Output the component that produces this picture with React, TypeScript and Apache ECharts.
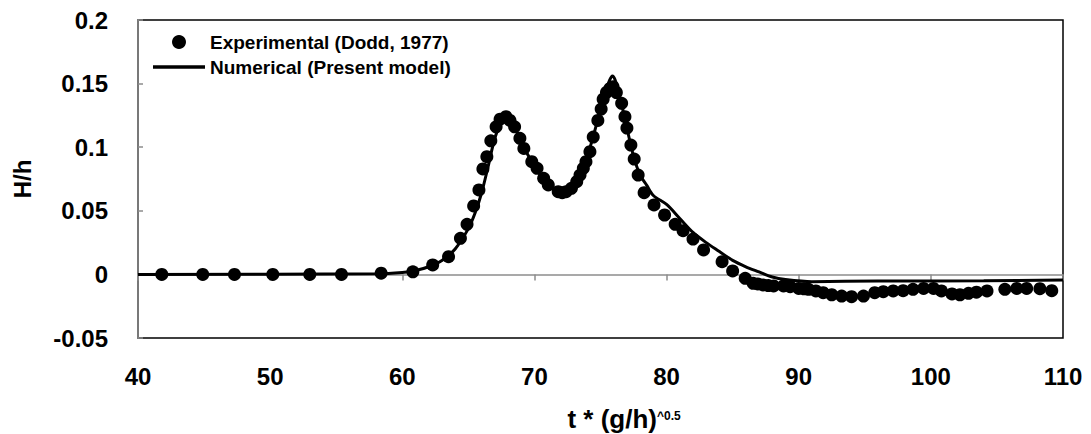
import React, { useEffect, useRef } from "react";
import * as echarts from "echarts";

const expX = [41.8, 44.9, 47.3, 50.2, 53.0, 55.4, 58.4, 60.8, 62.3, 63.5, 64.4, 64.9, 65.4, 65.8, 66.1, 66.4, 66.7, 67.1, 67.4, 67.85, 68.15, 68.5, 68.9, 69.2, 69.8, 70.2, 70.7, 71.05, 71.8, 72.1, 72.4, 72.8, 73.2, 73.45, 73.7, 73.9, 74.2, 74.45, 74.8, 75.05, 75.2, 75.45, 75.7, 75.95, 76.2, 76.6, 76.85, 77.0, 77.3, 77.55, 77.85, 78.3, 79.05, 79.85, 80.65, 81.25, 82.0, 82.8, 84.2, 85.0, 85.95, 86.55, 86.9, 87.3, 87.7, 88.1, 88.85, 89.35, 90.0, 90.4, 90.75, 91.3, 91.85, 92.5, 93.25, 94.0, 94.9, 95.75, 96.4, 97.15, 97.9, 98.65, 99.45, 100.2, 100.8, 101.6, 102.2, 102.85, 103.45, 104.25, 105.6, 106.5, 107.25, 108.25, 109.15];
const expY = [0, 0, 0, 0, 0, 0, 0.001, 0.002, 0.0074, 0.0139, 0.0284, 0.0394, 0.0538, 0.0664, 0.0829, 0.0925, 0.105, 0.116, 0.122, 0.124, 0.121, 0.116, 0.107, 0.099, 0.0886, 0.0834, 0.0755, 0.0703, 0.065, 0.0642, 0.065, 0.0677, 0.0729, 0.0781, 0.0834, 0.0886, 0.0965, 0.108, 0.121, 0.13, 0.1377, 0.143, 0.146, 0.1476, 0.143, 0.1345, 0.124, 0.115, 0.1017, 0.0907, 0.0781, 0.0642, 0.0546, 0.0467, 0.0394, 0.0344, 0.0278, 0.0192, 0.01, 0.0027, -0.0031, -0.007, -0.0075, -0.0083, -0.0088, -0.0091, -0.0091, -0.0097, -0.011, -0.0113, -0.0117, -0.013, -0.0144, -0.016, -0.017, -0.0175, -0.017, -0.0144, -0.0136, -0.013, -0.0128, -0.0117, -0.011, -0.011, -0.013, -0.0154, -0.016, -0.0149, -0.014, -0.013, -0.0117, -0.011, -0.011, -0.0112, -0.0128];

const numX = [40, 58, 60, 61, 62, 63, 64, 65, 65.5, 66, 66.5, 67, 67.5, 67.9, 68.3, 68.8, 69.5, 70.2, 71, 71.8, 72.3, 72.8, 73.3, 73.8, 74.3, 74.8, 75.3, 75.7, 75.9, 76.1, 76.5, 77, 77.5, 78, 78.5, 79, 80, 81, 82, 83, 84, 85, 86, 87, 88, 89, 91, 96, 104, 110];
const numY = [0, 0.0005, 0.0015, 0.003, 0.006, 0.011, 0.02, 0.036, 0.048, 0.064, 0.085, 0.107, 0.12, 0.124, 0.12, 0.109, 0.094, 0.082, 0.071, 0.065, 0.064, 0.067, 0.075, 0.088, 0.103, 0.122, 0.142, 0.153, 0.156, 0.153, 0.138, 0.115, 0.093, 0.078, 0.07, 0.062, 0.055, 0.044, 0.033, 0.025, 0.018, 0.011, 0.006, 0.002, -0.002, -0.004, -0.0057, -0.0052, -0.005, -0.0044];

const xTicks = { min: 40, max: 110, interval: 10 };
const yTicks = { min: -0.05, max: 0.2, interval: 0.05 };

const FONT = "'Liberation Sans', Arial, sans-serif";

export default function App() {
  const ref = useRef<HTMLDivElement>(null);
  useEffect(() => {
    if (!ref.current) return;
    const chart = echarts.init(ref.current, null, { renderer: "svg" });
    const expData = expX.map((x, i) => [x, expY[i]]);
    const numData = numX.map((x, i) => [x, numY[i]]);
    chart.setOption({
      animation: false,
      backgroundColor: "#fff",
      textStyle: { fontFamily: FONT },
      grid: {
        left: 138,
        top: 20,
        right: 28,
        bottom: 96,
        show: true,
        borderColor: "#000",
        borderWidth: 1.5,
      },
      legend: {
        orient: "vertical",
        left: 153,
        top: 32,
        padding: 0,
        itemWidth: 52,
        itemHeight: 14,
        itemGap: 5,
        textStyle: { fontFamily: FONT, fontSize: 19, fontWeight: "bold", color: "#000", lineHeight: 20 },
        data: [
          { name: "Experimental (Dodd, 1977)", icon: "circle" },
          { name: "Numerical (Present model)", icon: "path://M0,0 L52,0 L52,3.5 L0,3.5 Z" },
        ],
      },
      xAxis: [
        {
          type: "value",
          min: xTicks.min,
          max: xTicks.max,
          interval: xTicks.interval,
          position: "bottom",
          axisLine: { show: false, onZero: false },
          axisTick: { show: false },
          splitLine: { show: false },
          axisLabel: { fontFamily: FONT, fontSize: 24, fontWeight: "bold", color: "#000", margin: 26 },
        },
        {
          type: "value",
          min: xTicks.min,
          max: xTicks.max,
          interval: xTicks.interval,
          position: "top",
          axisLine: { show: true, onZero: true, onZeroAxisIndex: 0, lineStyle: { color: "#8c8c8c", width: 1.5 } },
          axisTick: { show: true, inside: true, length: 6, lineStyle: { color: "#8c8c8c", width: 1.5 } },
          axisLabel: { show: false },
          splitLine: { show: false },
        },
      ],
      yAxis: {
        type: "value",
        min: yTicks.min,
        max: yTicks.max,
        interval: yTicks.interval,
        name: "H/h",
        nameLocation: "middle",
        nameGap: 104,
        nameRotate: 90,
        nameTextStyle: { fontFamily: FONT, fontSize: 24, fontWeight: "bold", color: "#000" },
        axisLine: { show: true, onZero: false, lineStyle: { color: "#8c8c8c", width: 1.5 } },
        axisTick: { show: true, inside: true, length: 5, lineStyle: { color: "#8c8c8c", width: 1.5 } },
        splitLine: { show: false },
        axisLabel: {
          fontFamily: FONT,
          fontSize: 24,
          fontWeight: "bold",
          color: "#000",
          margin: 30,
          formatter: (v: number) => String(Number(v.toFixed(2))),
        },
      },
      graphic: [
        {
          type: "text",
          right: 1091 - 657,
          top: 406,
          style: { text: "t * (g/h)", font: `bold 26px ${FONT}`, fill: "#000", textAlign: "right" },
        },
        {
          type: "text",
          left: 657,
          top: 410,
          style: { text: "^0.5", font: `bold 12px ${FONT}`, fill: "#000" },
        },
      ],
      series: [
        {
          name: "Experimental (Dodd, 1977)",
          type: "scatter",
          xAxisIndex: 0,
          data: expData,
          symbol: "circle",
          symbolSize: 13,
          itemStyle: { color: "#000", opacity: 1 },
          z: 3,
        },
        {
          name: "Numerical (Present model)",
          type: "line",
          xAxisIndex: 0,
          data: numData,
          symbol: "none",
          smooth: 0.3,
          lineStyle: { color: "#000", width: 3 },
          itemStyle: { color: "#000" },
          z: 4,
        },
      ],
    });
    return () => chart.dispose();
  }, []);
  return <div ref={ref} style={{ position: "absolute", left: 0, top: 0, width: 1091, height: 434 }} />;
}
